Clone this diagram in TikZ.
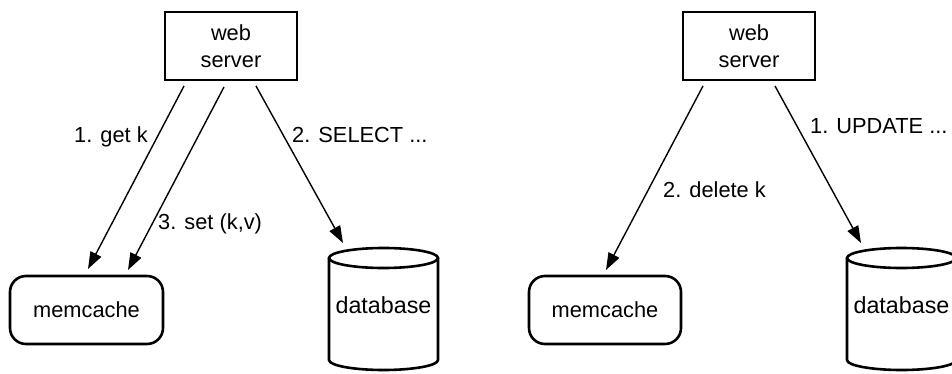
\documentclass[tikz,border=0pt]{standalone}
\usepackage{fontspec}
\setmainfont{Liberation Sans}
\usetikzlibrary{arrows.meta,calc}

\tikzset{
  txt/.style={font=\fontsize{21.8}{27}\selectfont, inner sep=0pt},
  serverbox/.style={draw, line width=2.6pt, minimum width=132pt, minimum height=68pt,
    align=center, txt},
  cachebox/.style={draw, line width=2.6pt, rounded corners=16pt, minimum width=153pt,
    minimum height=68pt, txt},
  dbframe/.style={minimum width=109pt, minimum height=122pt, inner sep=0pt},
  dbline/.style={line width=2.6pt},
  dbtext/.style={font=\fontsize{23.3}{28}\selectfont, inner sep=0pt},
  flow/.style={-{Triangle[length=17pt,width=12pt]}, line width=1.4pt},
  lbl/.style={txt, anchor=base west},
}

% cylinder drawn around a frame node
\newcommand{\dbcylinder}[1]{%
  \draw[dbline] ([yshift=51pt]#1.center) ellipse [x radius=54.5pt, y radius=10pt];
  \draw[dbline] ([shift={(-54.5pt,51pt)}]#1.center) -- ++(0,-102pt)
    arc[start angle=180, end angle=360, x radius=54.5pt, y radius=10pt] -- ++(0,102pt);
}

\begin{document}
\begin{tikzpicture}[x=1pt, y=1pt]
\useasboundingbox (0,0) rectangle (952,-374);
\clip (0,0) rectangle (952,-374);

% ---- read path ----
\node[serverbox] (ws1) at (231,-46) {web\\server};
\node[cachebox] (mc1) at (86.5,-310) {memcache};
\node[dbframe] (db1) at (383.5,-309) {};
\dbcylinder{db1}
\node[dbtext] (dbt1) at ([yshift=4pt]db1.center) {database};

\draw[flow] ([shift={(-47,-40)}]ws1.center) -- ([shift={(1.5,41)}]mc1.center);
\draw[flow] ([shift={(-7,-41)}]ws1.center) -- ([shift={(41.5,40)}]mc1.center);
\draw[flow] ([shift={(25,-40)}]ws1.center) -- ([shift={(-40.5,66)}]db1.center);

\node[lbl] (l1) at (74,-143) {1. get k};
\node[lbl] (l2) at (292,-143) {2. SELECT ...};
\node[lbl] (l3) at (158,-229) {3. set (k,v)};

% ---- write path ----
\node[serverbox] (ws2) at (749,-46) {web\\server};
\node[cachebox, minimum width=152pt] (mc2) at (605,-310) {memcache};
\node[dbframe] (db2) at (901.5,-309) {};
\dbcylinder{db2}
\node[dbtext] (dbt2) at ([yshift=4pt]db2.center) {database};

\draw[flow] ([shift={(-46,-40)}]ws2.center) -- ([shift={(1,40)}]mc2.center);
\draw[flow] ([shift={(26,-40)}]ws2.center) -- ([shift={(-40.5,66)}]db2.center);

\node[lbl] (r1) at (810,-134) {1. UPDATE ...};
\node[lbl] (r2) at (663,-197) {2. delete k};
\end{tikzpicture}
\end{document}
